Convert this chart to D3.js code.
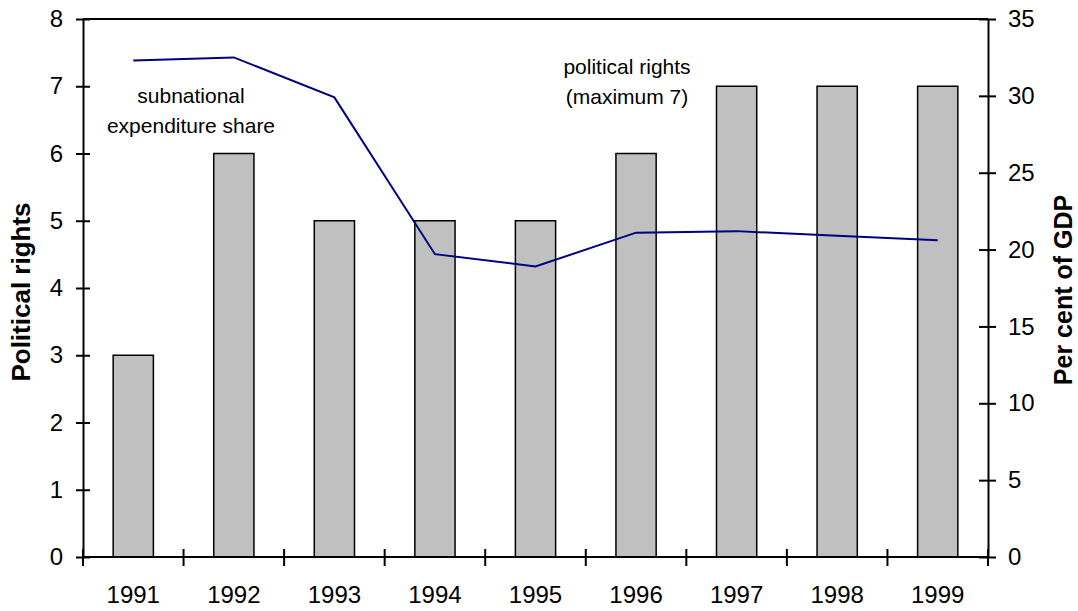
<!DOCTYPE html>
<html>
<head>
<meta charset="utf-8">
<script src="https://cdn.jsdelivr.net/npm/d3@7"></script>
<style>
body { margin: 0; background: #fff; }
text { font-family: "Liberation Sans", Arial, sans-serif; }
</style>
</head>
<body>
<svg id="chart"></svg>
<script>
// years and the two series
var years = ["1991","1992","1993","1994","1995","1996","1997","1998","1999"];
var rights = [3, 6, 5, 5, 5, 6, 7, 7, 7];
var expShare = [32.3, 32.5, 29.9, 19.7, 18.9, 21.1, 21.2, 20.9, 20.6];
var leftTicks = [0,1,2,3,4,5,6,7,8];
var rightTicks = [0,5,10,15,20,25,30,35];

var screen = {width:1078, height:611};
var margins = {left:83, right:90, top:19, bottom:54};
var graph = {
    width: screen.width - margins.left - margins.right,
    height: screen.height - margins.top - margins.bottom
};

var svg = d3.select("#chart")
    .attr("width", screen.width)
    .attr("height", screen.height);

var target = svg.append("g")
    .attr("transform", "translate(" + margins.left + "," + margins.top + ")");

var xScale = d3.scaleBand()
    .domain(years)
    .range([0, graph.width])
    .paddingInner(0.6)
    .paddingOuter(0.3);

var yLeft = d3.scaleLinear().domain([0, 8]).range([graph.height, 0]);
var yRight = d3.scaleLinear().domain([0, 35]).range([graph.height, 0]);

// bars
target.selectAll("rect.bar")
    .data(rights)
    .enter()
    .append("rect")
    .attr("class", "bar")
    .attr("x", function(d, i) { return xScale(years[i]); })
    .attr("y", function(d) { return yLeft(d); })
    .attr("width", xScale.bandwidth())
    .attr("height", function(d) { return graph.height - yLeft(d); })
    .attr("fill", "#c0c0c0")
    .attr("stroke", "#000")
    .attr("stroke-width", 1.5);

// line
var lineGenerator = d3.line()
    .x(function(d, i) { return xScale(years[i]) + xScale.bandwidth() / 2; })
    .y(function(d) { return yRight(d); });

target.append("path")
    .datum(expShare)
    .attr("d", lineGenerator)
    .attr("fill", "none")
    .attr("stroke", "#000080")
    .attr("stroke-width", 2);

// frame top line
target.append("line")
    .attr("x1", 0).attr("x2", graph.width)
    .attr("y1", 0).attr("y2", 0)
    .attr("stroke", "#000").attr("stroke-width", 2);

// axes
var leftAxis = d3.axisLeft(yLeft).tickValues(leftTicks).tickSizeInner(7).tickSizeOuter(0).tickPadding(13);
var gl = target.append("g").call(leftAxis);

var rightAxis = d3.axisRight(yRight).tickValues(rightTicks).tickSizeInner(8).tickSizeOuter(0).tickPadding(12);
var gr = target.append("g")
    .attr("transform", "translate(" + graph.width + ",0)")
    .call(rightAxis);

// x axis with ticks at category boundaries
var bounds = d3.range(years.length + 1).map(function(i) { return i * graph.width / years.length; });
var gx = target.append("g").attr("transform", "translate(0," + graph.height + ")");
gx.append("line")
    .attr("x1", 0).attr("x2", graph.width)
    .attr("stroke", "#000").attr("stroke-width", 2);
gx.selectAll("line.tick")
    .data(bounds)
    .enter()
    .append("line")
    .attr("class", "tick")
    .attr("x1", function(d) { return d; }).attr("x2", function(d) { return d; })
    .attr("y1", -8).attr("y2", 9)
    .attr("stroke", "#000").attr("stroke-width", 2);
gx.selectAll("text")
    .data(years)
    .enter()
    .append("text")
    .attr("x", function(d) { return xScale(d) + xScale.bandwidth() / 2; })
    .attr("y", 46)
    .attr("text-anchor", "middle")
    .attr("font-size", 24)
    .text(function(d) { return d; });

// crossing ticks on y axes
gl.selectAll(".tick line").attr("x1", 7).attr("x2", -7);
gr.selectAll(".tick line").attr("x1", -9).attr("x2", 8);

[gl, gr].forEach(function(g) {
    g.select(".domain").attr("stroke-width", 2);
    g.selectAll(".tick line").attr("stroke-width", 2);
    g.selectAll("text")
        .attr("font-size", 24)
        .attr("font-family", "'Liberation Sans', Arial, sans-serif")
        .attr("fill", "#000");
});

// axis titles
svg.append("text")
    .attr("transform", "translate(30,292) rotate(-90)")
    .attr("text-anchor", "middle")
    .attr("font-size", 26)
    .attr("font-weight", "bold")
    .text("Political rights");

svg.append("text")
    .attr("transform", "translate(1072,290) rotate(-90)")
    .attr("text-anchor", "middle")
    .attr("font-size", 25)
    .attr("font-weight", "bold")
    .text("Per cent of GDP");

// annotations
var notes = [
    {lines: ["subnational", "expenditure share"], x: 191, y: 103},
    {lines: ["political rights", "(maximum 7)"], x: 627, y: 74}
];
notes.forEach(function(n) {
    var t = svg.append("text")
        .attr("text-anchor", "middle")
        .attr("font-size", 21);
    n.lines.forEach(function(l, i) {
        t.append("tspan")
            .attr("x", n.x)
            .attr("y", n.y + i * 30)
            .text(l);
    });
});
</script>
</body>
</html>
